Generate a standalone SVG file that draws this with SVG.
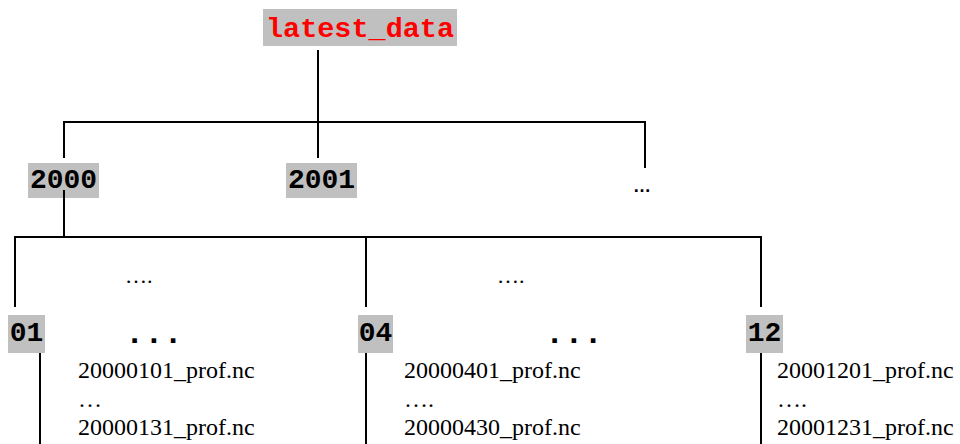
<svg xmlns="http://www.w3.org/2000/svg" width="960" height="444" viewBox="0 0 960 444">
<style>
.box{fill:#c0c0c0}
.lbl{font-family:"Liberation Mono","Courier New",monospace;font-weight:bold;font-size:28px;fill:#000}
.root{fill:#ff0000}
.file{font-family:"Liberation Serif","Times New Roman",serif;font-size:24px;fill:#000}
.dots{font-family:"Liberation Serif","Times New Roman",serif;font-size:22px;fill:#000}
.bdots{font-family:"Liberation Mono","Courier New",monospace;font-weight:bold;font-size:32px;fill:#000}
.ln{stroke:#000;stroke-width:2;fill:none}
</style>
<rect width="960" height="444" fill="#fff"/>
<g id="connectors">
<path class="ln" d="M318 50V158M64 158V122H645V168"/>
<path class="ln" d="M15 307V237H761V307M366 237V307"/>
</g>
<g id="latest_data">
<rect class="box" x="263" y="9" width="194" height="37"/>
<text class="lbl root" x="360" y="37" text-anchor="middle" textLength="188" lengthAdjust="spacingAndGlyphs">latest_data</text>
</g>
<g id="y2000">
<rect class="box" x="28" y="163" width="71" height="35"/>
<text class="lbl" x="63.5" y="188" text-anchor="middle">2000</text>
</g>
<g id="y2001">
<rect class="box" x="286" y="163" width="71" height="35"/>
<text class="lbl" x="321.5" y="188" text-anchor="middle">2001</text>
</g>
<g id="ymore">
<text x="642" y="192" text-anchor="middle" style="font-family:'Liberation Sans',Arial,sans-serif;font-weight:bold;font-size:18px">…</text>
</g>
<g id="connectors2">
<path class="ln" d="M64 190V237M40 353V444M366 353V444M761 353V444"/>
</g>
<g id="m01">
<rect class="box" x="8" y="315" width="37" height="38"/>
<text class="lbl" x="26.5" y="341" text-anchor="middle">01</text>
</g>
<g id="m04">
<rect class="box" x="358" y="315" width="35" height="38"/>
<text class="lbl" x="375.5" y="341" text-anchor="middle">04</text>
</g>
<g id="m12">
<rect class="box" x="746" y="315" width="37" height="38"/>
<text class="lbl" x="764.5" y="341" text-anchor="middle">12</text>
</g>
<g id="gap1">
<text class="dots" x="125" y="283">….</text>
<text class="bdots" x="125" y="343">...</text>
</g>
<g id="gap2">
<text class="dots" x="497" y="283">….</text>
<text class="bdots" x="545" y="343">...</text>
</g>
<g id="files01">
<text class="file" x="78" y="378">20000101_prof.nc</text>
<text class="file" x="78" y="407">…</text>
<text class="file" x="78" y="435">20000131_prof.nc</text>
</g>
<g id="files04">
<text class="file" x="404" y="378">20000401_prof.nc</text>
<text class="file" x="404" y="407">….</text>
<text class="file" x="404" y="435">20000430_prof.nc</text>
</g>
<g id="files12">
<text class="file" x="777" y="378">20001201_prof.nc</text>
<text class="file" x="777" y="407">….</text>
<text class="file" x="777" y="435">20001231_prof.nc</text>
</g>
</svg>
